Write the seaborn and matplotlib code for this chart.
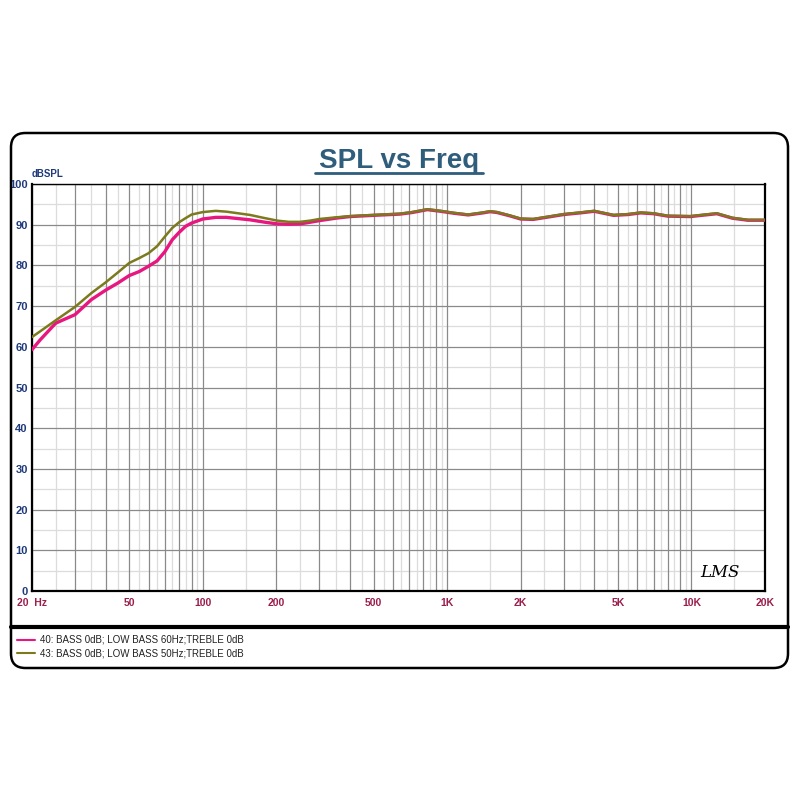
import numpy as np
import pandas as pd
import seaborn as sns
import matplotlib.pyplot as plt
from matplotlib.patches import FancyBboxPatch
from matplotlib.lines import Line2D

freqs = [20, 21.6, 25, 30, 35, 40, 45, 50, 55, 60, 65, 70, 75, 80, 85, 90, 100, 113, 125,
         156, 180, 202, 225, 250, 275, 300, 350, 400, 500, 640, 720,
         830, 940, 1070, 1220, 1400, 1500, 1600, 1800, 2000, 2250, 2600, 3000, 3500, 4000,
         4800, 5500, 6200, 7000, 8000, 9900, 11000, 12700, 14700, 17000, 20000]

spl_60hz = [59.3, 61.7, 65.8, 67.9, 71.6, 73.9, 75.7, 77.5, 78.5, 79.8, 81.1, 83.4, 86.3, 88.1,
            89.6, 90.4, 91.4, 91.8, 91.8, 91.2, 90.6, 90.2, 90.1, 90.2,
            90.6, 91.0, 91.6, 92.0, 92.3, 92.6, 93.0, 93.7, 93.3, 92.8, 92.4, 92.9, 93.2, 93.0,
            92.2, 91.4, 91.3, 91.9, 92.5, 92.9, 93.3, 92.3, 92.5, 92.9, 92.7, 92.1, 92.0, 92.3,
            92.7, 91.6, 91.1, 91.1]

spl_50hz = [62.4, 63.8, 66.5, 69.8, 73.2, 75.8, 78.3, 80.6, 81.8, 83.0, 84.7, 87.1, 89.2, 90.6,
            91.6, 92.5, 93.1, 93.4, 93.2, 92.4, 91.6, 91.0, 90.7, 90.7,
            91.0, 91.4, 91.8, 92.1, 92.4, 92.7, 93.1, 93.8, 93.4, 92.9, 92.5, 93.0, 93.3, 93.1,
            92.3, 91.5, 91.4, 92.0, 92.6, 93.0, 93.4, 92.4, 92.6, 93.0, 92.8, 92.2, 92.1, 92.4,
            92.8, 91.7, 91.2, 91.2]

labels = ["40: BASS 0dB; LOW BASS 60Hz;TREBLE 0dB",
          "43: BASS 0dB; LOW BASS 50Hz;TREBLE 0dB"]
colors = ["#e8177f", "#7b7a1c"]

xtick_vals = [20, 50, 100, 200, 500, 1000, 2000, 5000, 10000, 20000]
xtick_text = ["20  Hz", "50", "100", "200", "500", "1K", "2K", "5K", "10K", "20K"]
ytick_vals = list(range(0, 101, 10))

df_60 = pd.DataFrame({"freq": freqs, "spl": spl_60hz})
df_50 = pd.DataFrame({"freq": freqs, "spl": spl_50hz})

sns.set_style("white")
plt.rcParams['font.family'] = ['Liberation Sans', 'DejaVu Sans']

fig = plt.figure(figsize=(8, 8), dpi=100)
ax = fig.add_axes([32 / 800, 1 - 591 / 800, 733 / 800, 407 / 800])
ax.set_xscale("log")

# grid: dark at integer multiples, light at half steps
major_x = [m * 10 ** e for e in range(1, 5) for m in range(1, 10) if 20 <= m * 10 ** e <= 20000]
minor_x = [(m + 0.5) * 10 ** e for e in range(1, 5) for m in range(1, 10) if 20 < (m + 0.5) * 10 ** e < 20000]
for v in minor_x:
    ax.axvline(v, color="#dcdcdc", lw=0.9, zorder=0)
for v in range(5, 100, 10):
    ax.axhline(v, color="#dcdcdc", lw=0.9, zorder=0)
for v in major_x:
    ax.axvline(v, color="#8a8a8a", lw=0.9, zorder=1)
for v in ytick_vals:
    ax.axhline(v, color="#8a8a8a", lw=0.9, zorder=1)

sns.lineplot(data=df_60, x="freq", y="spl", color=colors[0], ax=ax, lw=2.4, sort=False, zorder=3)
sns.lineplot(data=df_50, x="freq", y="spl", color=colors[1], ax=ax, lw=1.8, sort=False, zorder=4)

ax.set_xlim(20, 20000)
ax.set_ylim(0, 100)
ax.set_xticks(xtick_vals)
ax.set_xticklabels(xtick_text)
ax.xaxis.set_minor_locator(plt.NullLocator())
ax.set_yticks(ytick_vals)
ax.tick_params(axis="x", length=0, pad=5, labelsize=7.5, labelcolor="#9c1e4c")
ax.tick_params(axis="y", length=0, pad=3, labelsize=8, labelcolor="#1f3a7a")
for t in ax.get_xticklabels() + ax.get_yticklabels():
    t.set_fontweight("bold")
ax.set_xlabel("")
ax.set_ylabel("")
for s in ax.spines.values():
    s.set_color("black")
    s.set_linewidth(1.6)
ax.spines["top"].set_linewidth(1.0)

ax.text(0.0, 1.012, "dBSPL", transform=ax.transAxes, fontsize=7, fontweight="bold",
        color="#1f3a7a", ha="left", va="bottom")
ax.text(0.965, 0.025, "LMS", transform=ax.transAxes, fontsize=12, style="italic",
        color="black", ha="right", va="bottom", family=["DejaVu Serif"])

# outer rounded frame and legend separator
frame = FancyBboxPatch((11 / 800, 1 - 668 / 800), 777 / 800, 535 / 800,
                       boxstyle="round,pad=0,rounding_size=0.018",
                       transform=fig.transFigure, fill=False, ec="black", lw=1.8)
fig.add_artist(frame)
fig.add_artist(Line2D([11 / 800, 788 / 800], [1 - 627 / 800] * 2, transform=fig.transFigure,
                      color="black", lw=3))

fig.text(399 / 800, 1 - 168 / 800, "SPL vs Freq", ha="center", va="baseline",
         fontsize=20, fontweight="bold", color="#2f5d7c")
fig.add_artist(Line2D([315 / 800, 483 / 800], [1 - 173 / 800] * 2, transform=fig.transFigure,
                      color="#2f5d7c", lw=2))

for i, (lab, c) in enumerate(zip(labels, colors)):
    y = 1 - (640 + 13 * i) / 800
    fig.add_artist(Line2D([17 / 800, 35 / 800], [y, y], transform=fig.transFigure, color=c, lw=1.5))
    fig.text(40 / 800, y, lab, ha="left", va="center", fontsize=7, color="#222222")

fig.savefig("out.png", dpi=100)
